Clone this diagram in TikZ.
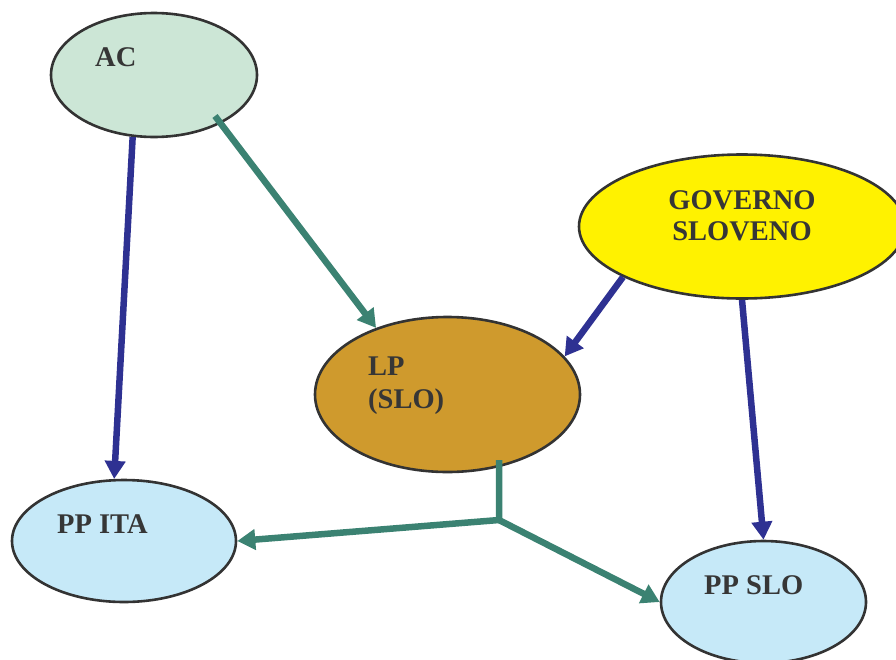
\documentclass[tikz,border=0pt]{standalone}
\usepackage{fontspec}
\setmainfont{Liberation Serif}
\usetikzlibrary{shapes.geometric,arrows.meta,calc}
\definecolor{outline}{HTML}{333333}
\definecolor{ink}{HTML}{363636}
\definecolor{acfill}{HTML}{CCE6D6}
\definecolor{govfill}{HTML}{FFF200}
\definecolor{lpfill}{HTML}{CF9A2D}
\definecolor{ppfill}{HTML}{C6E9F8}
\definecolor{linkblue}{HTML}{2E3192}
\definecolor{linkgreen}{HTML}{3B8272}
\begin{document}
\begin{tikzpicture}[x=1pt,y=-1pt,
  bubble/.style={ellipse, draw=outline, line width=2.6pt, inner sep=0pt},
  lbl/.style={font=\fontsize{28.5}{31}\selectfont\bfseries, text=ink, inner sep=0pt},
  tip/.style={-{Triangle[width=20pt,length=18pt]}},
  bluearrow/.style={draw=linkblue, line width=6.5pt, tip},
  greenarrow/.style={draw=linkgreen, line width=6.5pt, tip, line join=miter}
]
\useasboundingbox (0,0) rectangle (896,659);
\clip (0,0) rectangle (896,659);

% ellipses
\node[bubble, fill=acfill, minimum width=206pt, minimum height=124pt] (ac) at (154,75) {};
\node[bubble, fill=govfill, minimum width=326pt, minimum height=144pt] (gov) at (742,226.5) {};
\node[bubble, fill=lpfill, minimum width=265pt, minimum height=155pt] (lp) at (447.5,394.5) {};
\node[bubble, fill=ppfill, minimum width=224pt, minimum height=122pt] (ppita) at (124,541) {};
\node[bubble, fill=ppfill, minimum width=205pt, minimum height=122pt] (ppslo) at (763.5,602) {};

% texts (multi-line nodes sit on the baseline of their last line)
\node[lbl, anchor=base west] (ac-t) at (95,66) {AC};
\node[lbl, anchor=base, align=center] (gov-t) at (742,240) {GOVERNO\\SLOVENO};
\node[lbl, anchor=base west, align=left, font=\fontsize{28.5}{33}\selectfont\bfseries] (lp-t) at (368,408) {LP\\(SLO)};
\node[lbl, anchor=base west] (ppita-t) at (57,533) {PP ITA};
\node[lbl, anchor=base west] (ppslo-t) at (704,594) {PP SLO};

% connectors
\coordinate (acout) at ($(ac.center)+(61,41)$);
\coordinate (lpout) at (499,460);
\coordinate (fork) at (499,520);

\draw[bluearrow] (ac.251) -- (ppita.99);
\draw[greenarrow] (acout) -- (lp.137);
\draw[bluearrow] (gov.203) -- (lp.18);
\draw[bluearrow] (gov.south) -- (ppslo.north);
\draw[greenarrow] (lpout) -- (fork) -- (ppita.east);
\draw[greenarrow] (fork) -- (ppslo.west);
\end{tikzpicture}
\end{document}
